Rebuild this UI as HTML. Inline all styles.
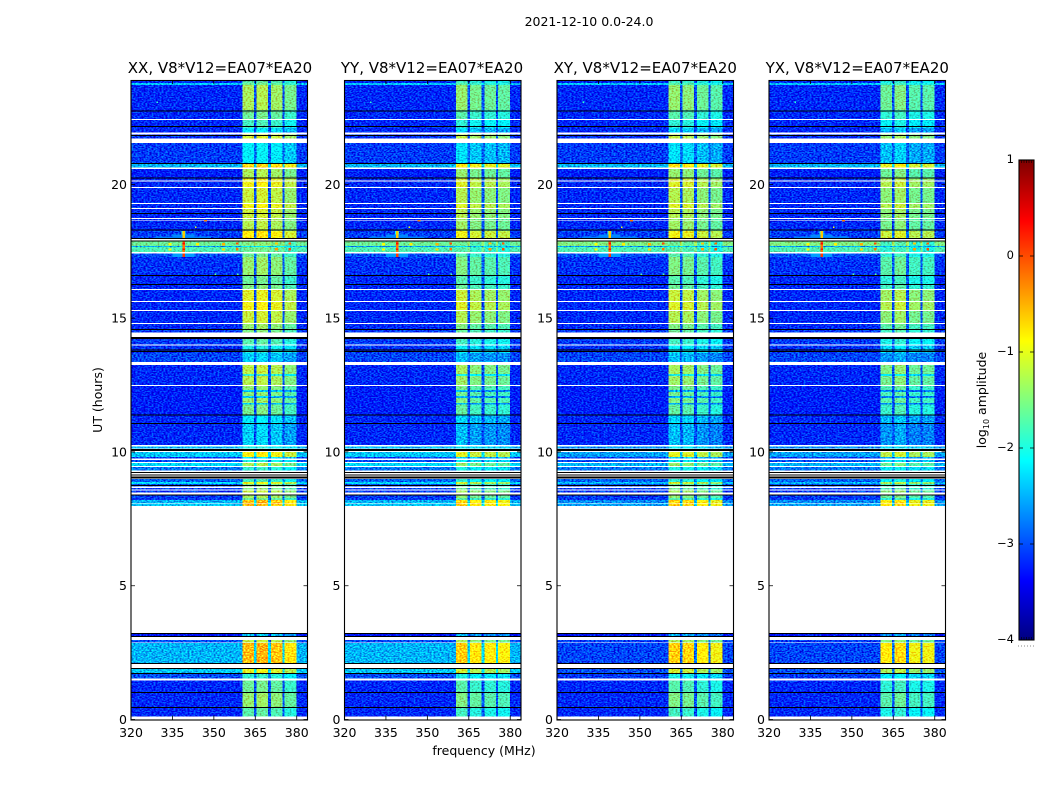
<!DOCTYPE html>
<html lang="en">
<head>
<meta charset="utf-8">
<title>2021-12-10 amplitude waterfall</title>
<style>
html,body{margin:0;padding:0;background:#fff;}
svg{display:block;}
text{font-family:"DejaVu Sans","Liberation Sans",sans-serif;fill:#000;}
</style>
</head>
<body>
<svg id="figure" xmlns="http://www.w3.org/2000/svg" width="1050" height="800" viewBox="0 0 1050 800">
  <rect x="0" y="0" width="1050" height="800" fill="#fff"/>
  <text x="589" y="26" font-size="12.5" text-anchor="middle">2021-12-10 0.0-24.0</text>
  <text x="0" y="0" font-size="12.5" text-anchor="middle" transform="translate(102,400) rotate(-90)">UT (hours)</text>
  <text x="484" y="755" font-size="12.5" text-anchor="middle">frequency (MHz)</text>
  <text x="0" y="0" font-size="12.5" text-anchor="middle" transform="translate(986,400) rotate(-90)">log<tspan font-size="8" dy="3">10</tspan><tspan dy="-3"> amplitude</tspan></text>
  <defs id="defs"></defs>
  <g id="panels"></g>
  <g id="colorbar"></g>
</svg>
<script>
// Baselines: panel titles and polarisations
const panelTitles = ["XX, V8*V12=EA07*EA20","YY, V8*V12=EA07*EA20","XY, V8*V12=EA07*EA20","YX, V8*V12=EA07*EA20"];
const hourTicks = [0,5,10,15,20];
const freqTicks = [320,335,350,365,380];
const colorTicks = [-4,-3,-2,-1,0,1];

// Frequency segments (MHz): quiet band, four bright sub-bands, the gaps between them
const segStart = [320,335,350,360.4,364.6,365.4,369.6,370.6,374.8,375.6,380];
const segEnd   = [335,350,360.4,364.6,365.4,369.6,370.6,374.8,375.6,380,383.9];
const segKind  = ["off","off","off","b0","gap","b1","gap","b2","gap","b3","off"];

// Time rows (UT hours) with log10 amplitude
const rowStart = [0.105,0.43,1.01,1.525,1.73,2.08,2.875,3.08,7.98,8.10,8.21,8.28,8.48,8.59,8.70,8.80,8.88,9.31,9.48,9.63,9.75,9.82,10.13,10.26,11.08,11.38,11.78,11.83,12.02,12.09,12.24,12.31,12.51,12.84,12.91,13.37,13.70,14.01,14.46,14.57,14.82,15.31,15.64,16.09,16.26,16.57,17.29,17.48,17.65,17.70,17.96,18.26,18.67,18.75,19.12,19.31,19.91,20.15,20.24,20.63,20.80,21.72,21.93,22.11,22.45,22.78,23.72,23.78];
const rowEnd   = [0.43,1.01,1.46,1.71,1.90,2.85,2.97,3.22,8.07,8.21,8.28,8.37,8.55,8.65,8.80,8.88,8.98,9.44,9.59,9.70,9.82,10.00,10.21,11.08,11.38,11.78,11.83,12.02,12.09,12.24,12.31,12.46,12.84,12.91,13.24,13.70,13.97,14.29,14.57,14.78,15.27,15.60,16.05,16.26,16.57,17.29,17.42,17.65,17.70,17.87,18.26,18.64,18.70,19.08,19.27,19.87,20.11,20.24,20.58,20.77,21.55,21.87,22.11,22.41,22.78,23.72,23.78,23.92];
const rowOffParallel = [-3.2,-3.2,-3.2,-3.0,-2.4,-2.5,-3.0,-3.3,-2.4,-2.5,-3.1,-3.1,-3.1,-3.1,-3.0,-2.3,-2.9,-2.8,-2.3,-3.0,-3.1,-2.4,-2.5,-3.2,-3.2,-3.25,-3.25,-3.25,-3.25,-3.25,-3.25,-3.25,-3.2,-3.2,-3.2,-3.05,-3.15,-3.1,-3.1,-3.2,-3.2,-3.2,-3.2,-3.2,-3.2,-3.15,-3.0,-1.75,-2.6,-1.6,-3.1,-3.2,-3.2,-3.2,-3.2,-3.2,-3.2,-3.2,-3.25,-2.5,-3.1,-3.15,-3.2,-3.2,-3.2,-3.2,-2.4,-3.2];
const rowOffCross    = [-3.2,-3.2,-3.2,-3.1,-3.0,-3.05,-3.1,-3.3,-2.6,-2.7,-3.1,-3.1,-3.1,-3.1,-3.0,-2.5,-2.9,-2.8,-2.5,-3.0,-3.1,-2.6,-2.7,-3.2,-3.2,-3.25,-3.25,-3.25,-3.25,-3.25,-3.25,-3.25,-3.2,-3.2,-3.2,-3.05,-3.15,-3.1,-3.1,-3.2,-3.2,-3.2,-3.2,-3.2,-3.2,-3.15,-3.0,-1.75,-2.6,-1.5,-3.1,-3.2,-3.2,-3.2,-3.2,-3.2,-3.2,-3.2,-3.25,-2.5,-3.1,-3.15,-3.2,-3.2,-3.2,-3.2,-2.4,-3.2];
const rowBand        = [-1.7,-1.4,-1.6,-1.9,-1.0,-0.55,-1.2,-2.4,-0.55,-0.6,-1.6,-1.3,-1.2,-1.5,-1.5,-1.0,-1.8,-1.9,-1.3,-2.0,-2.2,-0.9,-2.0,-2.35,-2.2,-1.55,-2.4,-1.4,-2.4,-1.45,-2.4,-1.45,-1.25,-1.9,-1.2,-2.35,-2.0,-1.7,-1.5,-1.4,-1.15,-0.95,-1.05,-1.5,-1.6,-1.4,-1.6,-1.6,-2.2,-1.5,-0.85,-1.25,-1.3,-1.15,-0.95,-1.15,-0.95,-1.0,-1.3,-0.7,-2.15,-1.1,-2.2,-1.8,-1.6,-1.3,-1.6,-1.7];

// Per-panel offset of each sub-band relative to the row's band level
const subBandXX = [0,0.05,-0.05,-0.25];
const subBandYY = [-0.1,-0.25,-0.3,-0.35];
const subBandXY = [-0.1,-0.15,-0.3,-0.4];
const subBandYX = [-0.3,-0.2,-0.4,-0.4];
const subBands = [subBandXX,subBandYY,subBandXY,subBandYX];

// Fully flagged (black) single integrations, UT hours
const blackHours = [0.44,1.017,1.72,1.91,2.09,3.095,3.22,8.39,8.74,9.03,9.07,9.14,9.23,10.06,10.10,11.07,11.38,13.75,13.81,14.24,14.27,14.57,16.26,16.59,17.89,17.97,18.29,18.92,20.23,20.78,21.82,22.16,22.74];

// Interference features: frequency range, time range, log10 amplitude
const rfiFreqLow  = [338.2,335,329,335,338.6,338.6,338.6,338.6,338.6,333.6,343.6,353,358,372.2,377,333.6,353,358,372.2,377,329.2,346.4,343.2,350.2,358.4];
const rfiFreqHigh = [339.8,343,349,343,339.6,339.6,339.6,339.6,339.6,334.6,344.6,354,359,373.2,378,334.6,354,359,373.2,378,329.8,347.6,343.8,350.8,359];
const rfiHourLow  = [18.12,18.05,17.97,17.29,17.29,17.96,17.48,17.75,17.55,17.72,17.72,17.72,17.52,17.52,17.52,17.52,17.52,17.75,17.75,17.75,23.05,18.62,18.36,16.6,16.6];
const rfiHourHigh = [18.26,18.12,18.05,17.42,17.42,18.26,17.87,17.82,17.6,17.8,17.8,17.8,17.62,17.62,17.62,17.6,17.6,17.83,17.83,17.83,23.1,18.66,18.42,16.66,16.66];
const rfiLevel    = [-2.0,-2.7,-2.75,-2.6,0.1,-0.6,-0.2,0.35,0.3,-0.9,-0.8,-0.5,-0.2,-0.4,0,-0.9,-0.7,0,-0.6,-0.1,-1.9,-0.2,-1,-1.7,-1.7];

// Axis geometry
const panelLeft = [131,344.5,557,769];
const panelTitleCenter = [220,432,645.25,857.25];
const panelWidth = 176.5;
const plotTop = 80, plotBottom = 719.5;
const hourMax = 23.9, freqMin = 320, freqMax = 383.9;
const valueMin = -4, valueMax = 1;
const NS = "http://www.w3.org/2000/svg";

function xScale(panel, f){ return panelLeft[panel] + (f - freqMin) / (freqMax - freqMin) * panelWidth; }
function yScale(h){ return plotBottom - h / hourMax * (plotBottom - plotTop); }
function clamp01(v){ return Math.max(0, Math.min(1, v)); }
function jet(v){
  const t = clamp01((v - valueMin) / (valueMax - valueMin));
  const r = clamp01(Math.min(4*t - 1.5, -4*t + 4.5));
  const g = clamp01(Math.min(4*t - 0.5, -4*t + 3.5));
  const b = clamp01(Math.min(4*t + 0.5, -4*t + 2.5));
  return "rgb(" + Math.round(r*255) + "," + Math.round(g*255) + "," + Math.round(b*255) + ")";
}
function mk(tag, attrs, parent, txt){
  const el = document.createElementNS(NS, tag);
  for (const k in attrs) el.setAttribute(k, attrs[k]);
  if (txt !== undefined) el.textContent = txt;
  parent.appendChild(el);
  return el;
}
function cellLevel(panel, row, seg){
  const kind = segKind[seg];
  const off = panel < 2 ? rowOffParallel[row] : rowOffCross[row];
  if (kind === "off") return off;
  if (kind === "gap") return off + 0.2;
  return rowBand[row] + subBands[panel][+kind.slice(1)];
}

const panelsRoot = document.getElementById("panels");
const defs = document.getElementById("defs");

panelTitles.forEach(function(title, p){
  const left = panelLeft[p];
  const group = mk("g", {}, panelsRoot);
  
  

  // Decorative pixel grain only (rendering texture, not data); it adds speckle on top of the read levels
  const f = mk("filter", {id:"grain"+p, filterUnits:"userSpaceOnUse", x:left, y:plotTop, width:panelWidth, height:plotBottom-plotTop, "color-interpolation-filters":"sRGB"}, defs);
  mk("feTurbulence", {type:"fractalNoise", baseFrequency:"0.5 0.8", numOctaves:"1", seed:String(3+p*7), result:"n"}, f);
  mk("feColorMatrix", {in:"n", type:"matrix", values:"0 0 0 0 0.5  3 0 0 0 -1  1.5 0 0 0 -0.25  0 0 0 0 1", result:"c"}, f);
  mk("feComposite", {in:"SourceGraphic", in2:"c", operator:"arithmetic", k1:"0", k2:"1", k3:"0.55", k4:"-0.275", result:"m"}, f);
  mk("feComposite", {in:"m", in2:"SourceAlpha", operator:"in"}, f);

  const cells = mk("g", {filter:"url(#grain"+p+")", "shape-rendering":"crispEdges"}, group);
  
  
  rowStart.forEach(function(h0, r){
    const yTop = yScale(rowEnd[r]), yBot = yScale(h0);
    segStart.forEach(function(f0, s){
      const x0 = xScale(p, f0), x1 = xScale(p, segEnd[s]);
      const cell = mk("rect", {x:x0.toFixed(2), y:yTop.toFixed(2), width:(x1-x0).toFixed(2), height:(yBot-yTop).toFixed(2), fill:jet(cellLevel(p, r, s))}, cells);
      
      
    });
  });

  const rfi = mk("g", {"shape-rendering":"crispEdges"}, group);
  
  
  rfiLevel.forEach(function(v, i){
    const x0 = xScale(p, rfiFreqLow[i]), x1 = xScale(p, rfiFreqHigh[i]);
    const y0 = yScale(rfiHourHigh[i]), y1 = yScale(rfiHourLow[i]);
    const m = mk("rect", {x:x0.toFixed(2), y:y0.toFixed(2), width:(x1-x0).toFixed(2), height:(y1-y0).toFixed(2), fill:jet(v)}, rfi);
    
    
  });

  const flagged = mk("g", {"shape-rendering":"crispEdges"}, group);
  
  
  blackHours.forEach(function(h){
    const line = mk("rect", {x:left, y:(yScale(h)-0.5).toFixed(2), width:panelWidth, height:1, fill:"#000"}, flagged);
    
    
  });

  const frame = mk("rect", {x:left, y:plotTop+0.5, width:panelWidth, height:plotBottom-plotTop, fill:"none", stroke:"#000", "stroke-width":1.1}, group);
  
  

  const t = mk("text", {x:panelTitleCenter[p], y:73, "font-size":15, "text-anchor":"middle"}, group, title);
  
  

  hourTicks.forEach(function(h){
    const y = yScale(h);
    const a = mk("path", {d:"M"+left+" "+y+"h4M"+(left+panelWidth)+" "+y+"h-4", stroke:"#000", "stroke-width":0.8, fill:"none"}, group);
    
    
    const l = mk("text", {x:left-4, y:y+4.5, "font-size":12.5, "text-anchor":"end"}, group, String(h));
    
    
  });
  freqTicks.forEach(function(fr){
    const x = xScale(p, fr);
    const a = mk("path", {d:"M"+x+" "+plotBottom+"v-4M"+x+" "+plotTop+"v4", stroke:"#000", "stroke-width":0.8, fill:"none"}, group);
    
    
    const l = mk("text", {x:x, y:737, "font-size":12.5, "text-anchor":"middle"}, group, String(fr));
    
    
  });
});

// Colorbar
const cb = document.getElementById("colorbar");
const cbLeft = 1019, cbWidth = 15, cbTop = 160, cbBottom = 640;
function cbY(v){ return cbBottom - (v - valueMin) / (valueMax - valueMin) * (cbBottom - cbTop); }
const ramp = mk("g", {"shape-rendering":"crispEdges"}, cb);


for (let i = 0; i < 240; i++){
  const v0 = valueMin + (valueMax - valueMin) * i / 240;
  const v1 = valueMin + (valueMax - valueMin) * (i + 1) / 240;
  const s = mk("rect", {x:cbLeft, y:cbY(v1).toFixed(2), width:cbWidth, height:(cbY(v0)-cbY(v1)+0.5).toFixed(2), fill:jet((v0+v1)/2)}, ramp);
  
  
}
const cbFrame = mk("rect", {x:cbLeft, y:cbTop, width:cbWidth, height:cbBottom-cbTop, fill:"none", stroke:"#000", "stroke-width":1.1}, cb);


colorTicks.forEach(function(v){
  const y = cbY(v);
  const a = mk("path", {d:"M"+cbLeft+" "+y+"h4M"+(cbLeft+cbWidth)+" "+y+"h-4", stroke:"#000", "stroke-width":0.8, fill:"none"}, cb);
  
  
  const l = mk("text", {x:cbLeft-5, y:y+3, "font-size":11.5, "text-anchor":"end"}, cb, v < 0 ? "\u2212" + Math.abs(v) : String(v));
  
  
});
const ends = mk("path", {d:"M1021.5 160v3M1024 160v3M1026.5 160v3M1029 160v3M1031.5 160v3M1021.5 640v-3M1024 640v-3M1026.5 640v-3M1029 640v-3M1031.5 640v-3", stroke:"#000", "stroke-width":0.6, fill:"none"}, cb);


const dots = mk("line", {x1:1018, x2:1035, y1:646, y2:646, stroke:"#888", "stroke-width":1, "stroke-dasharray":"1 2"}, cb);


</script>
</body>
</html>
